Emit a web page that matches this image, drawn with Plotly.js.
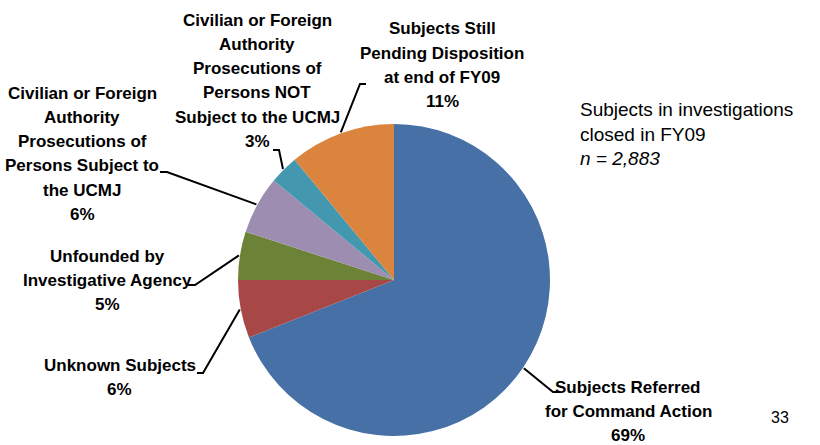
<!DOCTYPE html>
<html><head><meta charset="utf-8">
<script src="https://cdn.plot.ly/plotly-3.0.1.min.js"></script>
<style>html,body{margin:0;padding:0;background:#fff}</style>
</head><body><div id="chart" style="width:820px;height:445px"></div>
<script>
// ---- data ----
const categories = [
  "Subjects Referred for Command Action",
  "Unknown Subjects",
  "Unfounded by Investigative Agency",
  "Civilian or Foreign Authority Prosecutions of Persons Subject to the UCMJ",
  "Civilian or Foreign Authority Prosecutions of Persons NOT Subject to the UCMJ",
  "Subjects Still Pending Disposition at end of FY09"
];
const percents = [69, 6, 5, 6, 3, 11];
const labelLines = [
  ["Subjects Referred", "for Command Action"],
  ["Unknown Subjects"],
  ["Unfounded by", "Investigative Agency"],
  ["Civilian or Foreign", "Authority", "Prosecutions of", "Persons Subject to", "the UCMJ"],
  ["Civilian or Foreign", "Authority", "Prosecutions of", "Persons NOT", "Subject to the UCMJ"],
  ["Subjects Still", "Pending Disposition", "at end of FY09"]
];
const sliceColors = ["#4670A6", "#A84846", "#6C8236", "#9D8DB0", "#4398AF", "#DA843E"];
const noteLines = ["Subjects in investigations", "closed in FY09"];
const sampleSize = "2,883";
const pageNumber = "33";

// ---- layout (pixels) ----
const W = 820, H = 445;
const CX = 394, CY = 280, R = 156;
const LINE_H = 24.3;
const labelAnchors = [[628, 387], [120, 365], [107, 256], [82, 93], [257, 20], [442, 29]]; // center x, first-line y
const leaders = [ // elbow x, elbow y, end x
  [553, 392, 560], [203, 373, 197], [195, 285, 188],
  [167, 172, 160], [279, 150, 273], [360, 84, 366]
];
const fx = x => x / W, fy = y => 1 - y / H;

const labelFont = {family: "Liberation Sans, Arial, sans-serif", size: 17, color: "#000", weight: "bold"};
const noteFont = {family: "Liberation Sans, Arial, sans-serif", size: 19, color: "#000"};

function addLines(list, lines, x, y0, dy, font, xanchor) {
  lines.forEach((t, k) => list.push({xref: "paper", yref: "paper", x: fx(x), y: fy(y0 + k * dy),
    xanchor: xanchor, yanchor: "middle", showarrow: false, text: t, font: font}));
}

const total = percents.reduce((a, b) => a + b, 0);
const annotations = [], shapes = [];
let cum = 0;
percents.forEach((v, i) => {
  const a = 2 * Math.PI * (cum + v / 2) / total;
  cum += v;
  const ex = CX + (R + 1) * Math.sin(a), ey = CY - (R + 1) * Math.cos(a);
  const [bx, by, tx] = leaders[i];
  shapes.push({type: "path", xref: "paper", yref: "paper",
    path: `M${fx(ex)},${fy(ey)} L${fx(bx)},${fy(by)} L${fx(tx)},${fy(by)}`,
    line: {color: "#000", width: 2}});
  addLines(annotations, labelLines[i].concat([Math.round(100 * v / total) + "%"]),
    labelAnchors[i][0], labelAnchors[i][1], LINE_H, labelFont, "center");
});
addLines(annotations, noteLines.concat(["<i>n = " + sampleSize + "</i>"]), 578, 110, 24, noteFont, "left");
annotations.push({xref: "paper", yref: "paper", x: fx(780), y: fy(417), xanchor: "center", yanchor: "middle",
  showarrow: false, text: pageNumber,
  font: {family: "Liberation Sans, Arial, sans-serif", size: 16, color: "#000"}});

const trace = {
  type: "pie", labels: categories, values: percents, sort: false, direction: "clockwise", rotation: 0,
  marker: {colors: sliceColors, line: {width: 0}}, textinfo: "none", hoverinfo: "none",
  domain: {x: [fx(CX - R), fx(CX + R)], y: [fy(CY + R), fy(CY - R)]}
};
Plotly.newPlot("chart", [trace], {
  width: W, height: H, margin: {l: 0, r: 0, t: 0, b: 0}, showlegend: false,
  paper_bgcolor: "#fff", annotations: annotations, shapes: shapes
}, {staticPlot: true});
</script></body></html>
